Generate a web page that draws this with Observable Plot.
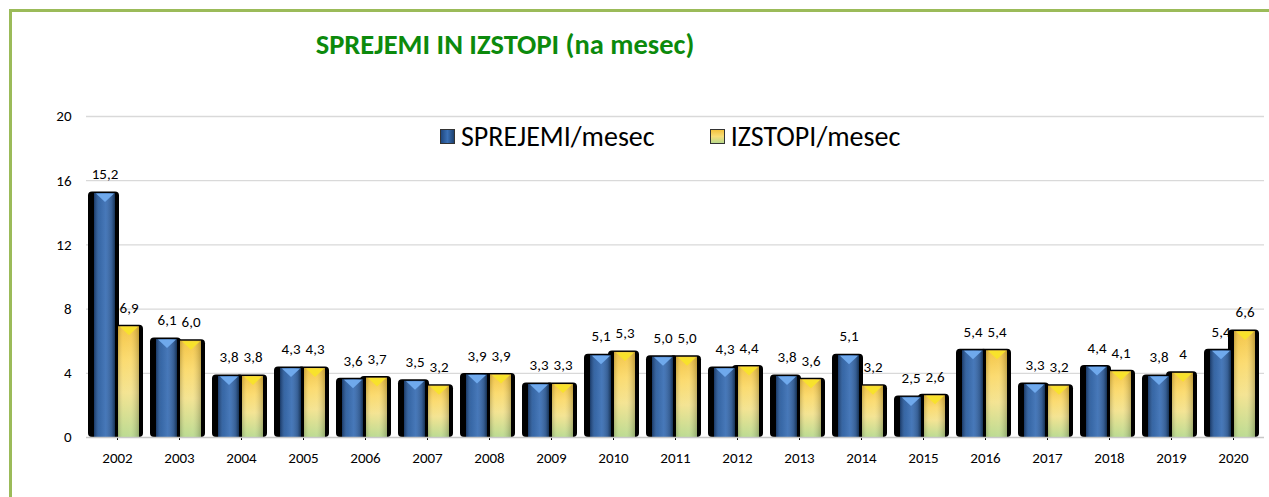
<!DOCTYPE html>
<html>
<head>
<meta charset="utf-8">
<script src="https://cdn.jsdelivr.net/npm/d3@7"></script>
<script src="https://cdn.jsdelivr.net/npm/@observablehq/plot@0.6"></script>
<style>
  html, body { margin: 0; padding: 0; background: #fff; overflow: hidden; }
  #wrap { position: relative; width: 1269px; height: 497px; overflow: hidden; font-family: Carlito, Calibri, Lato, sans-serif; }
  #frame { position: absolute; left: 9px; top: 9px; width: 1400px; height: 600px; border: 3px solid #9bbb59; box-sizing: border-box; }
  #title { position: absolute; left: 0; width: 1010px; top: 27px; text-align: center; color: #0c8a0c; font-weight: bold; font-size: 28.5px; }
  #legend { position: absolute; top: 119px; left: 440px; font-size: 28px; color: #000; display: flex; align-items: center; }
  .item { display: flex; align-items: center; margin-right: 55px; }
  .sw { width: 13px; height: 13px; margin-right: 6px; border: 1px solid #333; }
  #chart { position: absolute; left: 0; top: 0; }
  #chart svg text { font-size: 15px; font-family: Carlito, Calibri, Lato, sans-serif; }
</style>
</head>
<body>
<div id="wrap">
  <div id="frame"></div>
  <div id="chart"></div>
  <div id="title"></div>
  <div id="legend"></div>
</div>
<script>
const chartTitle = "SPREJEMI IN IZSTOPI (na mesec)";
const years = ["2002","2003","2004","2005","2006","2007","2008","2009","2010","2011","2012","2013","2014","2015","2016","2017","2018","2019","2020"];
const seriesNames = ["SPREJEMI/mesec", "IZSTOPI/mesec"];
const sprejemi = [15.2, 6.1, 3.8, 4.3, 3.6, 3.5, 3.9, 3.3, 5.1, 5.0, 4.3, 3.8, 5.1, 2.5, 5.4, 3.3, 4.4, 3.8, 5.4];
const izstopi  = [6.9, 6.0, 3.8, 4.3, 3.7, 3.2, 3.9, 3.3, 5.3, 5.0, 4.4, 3.6, 3.2, 2.6, 5.4, 3.2, 4.1, 4.0, 6.6];
const sprejemiLabels = ["15,2","6,1","3,8","4,3","3,6","3,5","3,9","3,3","5,1","5,0","4,3","3,8","5,1","2,5","5,4","3,3","4,4","3,8","5,4"];
const izstopiLabels  = ["6,9","6,0","3,8","4,3","3,7","3,2","3,9","3,3","5,3","5,0","4,4","3,6","3,2","2,6","5,4","3,2","4,1","4","6,6"];
const yTicks = [0, 4, 8, 12, 16, 20];

const data = years.flatMap((year, i) => [
  {year, series: seriesNames[0], value: sprejemi[i], label: sprejemiLabels[i]},
  {year, series: seriesNames[1], value: izstopi[i], label: izstopiLabels[i]}
]);

const fillFor = d => d.series === seriesNames[0] ? "url(#gBlue)" : "url(#gYellow)";
const triFor = d => d.series === seriesNames[0] ? "#6fa9ec" : "#f8e22c";

const downTriangle = {
  draw(ctx) {
    ctx.moveTo(-9, -4);
    ctx.lineTo(9, -4);
    ctx.lineTo(0, 4.5);
    ctx.closePath();
  }
};

const svg = Plot.plot({
  width: 1269,
  height: 497,
  marginLeft: 81,
  marginRight: 0,
  marginTop: 116,
  marginBottom: 60,
  style: {fontFamily: "Carlito, Calibri, Lato, sans-serif", fontSize: "15px", color: "#000", background: "transparent", overflow: "visible"},
  fx: {domain: years, padding: 0, label: null, axis: "bottom", tickSize: 3, tickPadding: 12},
  x: {domain: seriesNames, paddingInner: 0.12, paddingOuter: 0.31, axis: null},
  y: {domain: [0, 20], axis: null},
  marks: [
    Plot.ruleY(yTicks.slice(1), {stroke: "#d9d9d9", strokeWidth: 1.3}),
    Plot.text(yTicks, {fx: () => years[0], y: d => d, text: d => String(d), frameAnchor: "left", textAnchor: "end", dx: -15, fill: "#000"}),
    Plot.barY(data, {fx: "year", x: "series", y: "value", fill: "#000", insetLeft: -6, insetRight: -4, insetTop: -1.5, rx: 4}),
    Plot.barY(data, {fx: "year", x: "series", y: "value", fill: fillFor}),
    Plot.barY(data, {fx: "year", x: "series", y: "value", fill: "url(#gShade)"}),
    Plot.dot(data, {fx: "year", x: "series", y: "value", symbol: downTriangle, fill: triFor, stroke: null, dy: 4}),
    Plot.ruleY([0], {stroke: "#c8c8c8", strokeWidth: 1.5}),
    Plot.text(data, {fx: "year", x: "series", y: "value", text: "label", dy: -19, fill: "#000", fontSize: 15})
  ]
});

const s = d3.select(svg);
const defs = s.insert("defs", ":first-child");
const gb = defs.append("linearGradient").attr("id", "gBlue").attr("x1", 0).attr("x2", 1).attr("y1", 0).attr("y2", 0);
[["0%", "#1f477f"], ["20%", "#2c5e9f"], ["55%", "#386db3"], ["85%", "#2c5c9c"], ["100%", "#1d416f"]]
  .forEach(([o, c]) => gb.append("stop").attr("offset", o).attr("stop-color", c));
const gy = defs.append("linearGradient").attr("id", "gYellow").attr("x1", 0).attr("x2", 0).attr("y1", 0).attr("y2", 1);
[["0%", "#f3c23e"], ["30%", "#fbd968"], ["60%", "#f3e28c"], ["100%", "#b8d98c"]]
  .forEach(([o, c]) => gy.append("stop").attr("offset", o).attr("stop-color", c));
const gs = defs.append("linearGradient").attr("id", "gShade").attr("x1", 0).attr("x2", 1).attr("y1", 0).attr("y2", 0);
[["0%", "#000", 0.18], ["25%", "#fff", 0.05], ["60%", "#fff", 0.08], ["100%", "#000", 0.22]]
  .forEach(([o, c, op]) => gs.append("stop").attr("offset", o).attr("stop-color", c).attr("stop-opacity", op));
s.selectAll("[aria-label='fx-axis'] line, [aria-label='fx-axis tick']").attr("stroke", "#c8c8c8");
s.selectAll("text").style("font-size", "15px").style("font-family", "Carlito, Calibri, Lato, sans-serif");

document.getElementById("chart").appendChild(svg);
document.getElementById("title").textContent = chartTitle;

const legend = document.getElementById("legend");
const swatches = ["linear-gradient(90deg,#1f477f,#3a70b6,#1d416f)", "linear-gradient(180deg,#f3c23e,#f8de78,#b8d98c)"];
seriesNames.forEach((name, i) => {
  const item = document.createElement("div");
  item.className = "item";
  const sw = document.createElement("div");
  sw.className = "sw";
  sw.style.background = swatches[i];
  const t = document.createElement("span");
  t.textContent = name;
  item.appendChild(sw);
  item.appendChild(t);
  legend.appendChild(item);
});
</script>
</body>
</html>
